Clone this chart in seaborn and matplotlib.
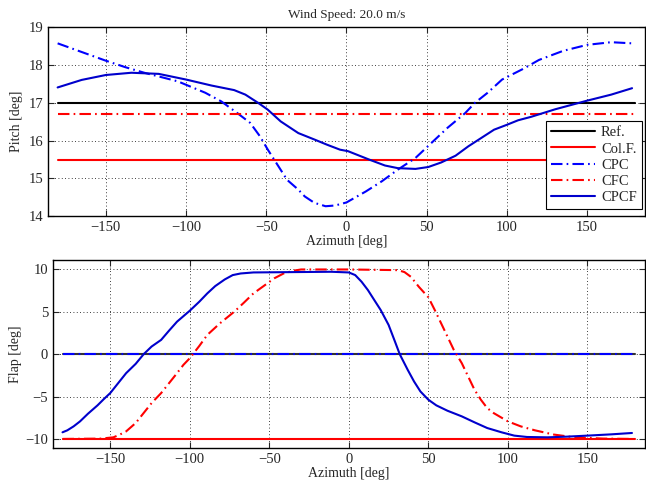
import matplotlib
matplotlib.use("Agg")
import matplotlib.pyplot as plt
import seaborn as sns
import pandas as pd

# --- data ---
az_ends = [-180, 180]

# pitch (top)
pitch_ref = [17.0, 17.0]
pitch_colf = [15.48, 15.48]
pitch_cfc = [16.70, 16.70]

pitch_cpc_az = [-180, -165, -150, -138, -126, -115, -105, -88, -78, -68, -60, -54, -49, -43, -37, -30, -26, -20,
                -13, -7, 0, 12, 22, 32, 43, 53, 63, 74, 80, 88, 97, 110, 120, 135, 150, 165, 178]
pitch_cpc = [18.58, 18.35, 18.12, 17.95, 17.80, 17.68, 17.57, 17.27, 17.04, 16.73, 16.47, 16.12, 15.76, 15.36,
             14.96, 14.70, 14.52, 14.35, 14.26, 14.28, 14.36, 14.65, 14.92, 15.23, 15.54, 15.94, 16.34, 16.73,
             17.0, 17.27, 17.62, 17.9, 18.14, 18.38, 18.54, 18.61, 18.58]

pitch_cpcf_az = [-180, -165, -150, -134, -117, -100, -84, -70, -63, -55, -49, -41, -30, -20, -12, -4, 1, 14, 24,
                 32, 43, 51, 59, 68, 76, 84, 92, 100, 107, 115, 130, 150, 165, 178]
pitch_cpcf = [17.41, 17.61, 17.74, 17.80, 17.77, 17.62, 17.46, 17.34, 17.22, 17.0, 16.82, 16.51, 16.2, 16.03,
              15.89, 15.76, 15.72, 15.50, 15.34, 15.27, 15.25, 15.30, 15.42, 15.60, 15.85, 16.07, 16.29, 16.42,
              16.54, 16.63, 16.83, 17.06, 17.22, 17.39]

# flap (bottom)
flap_ref = [0.0, 0.0]
flap_colf = [-10.0, -10.0]
flap_cpc = [0.0, 0.0]

flap_cfc_az = [-180, -156, -148, -144, -140, -134, -129, -124, -118, -113, -108, -104, -100, -94, -89, -81, -72,
               -66, -60, -53, -47, -41, -35, -30, 0, 31, 35, 39, 44, 50, 54, 58, 62, 66, 71, 75, 79, 83, 87, 91,
               100, 108, 117, 129, 142, 160, 178]
flap_cfc = [-9.94, -9.9, -9.75, -9.43, -9.05, -8.07, -6.9, -5.73, -4.56, -3.39, -2.22, -1.25, -0.47, 0.97, 2.26,
            3.63, 4.99, 6.04, 7.13, 8.07, 8.89, 9.47, 9.79, 9.94, 9.94, 9.86, 9.63, 9.08, 7.91, 6.67, 5.19, 3.63,
            2.07, 0.5, -1.05, -2.61, -4.17, -5.34, -6.32, -6.9, -7.88, -8.46, -8.93, -9.43, -9.75, -9.9, -9.94]

flap_cpcf_az = [-180, -177, -173, -169, -164, -158, -154, -150, -145, -140, -134, -129, -124, -118, -113, -108,
                -100, -94, -89, -84, -78, -73, -68, -60, -11, 0, 4, 8, 12, 16, 20, 25, 29, 32, 37, 41, 45, 50,
                55, 62, 71, 79, 87, 96, 104, 112, 125, 137, 150, 165, 178]
flap_cpcf = [-9.16, -8.93, -8.46, -7.88, -6.98, -6.0, -5.26, -4.56, -3.39, -2.22, -1.13, 0.0, 0.9, 1.68, 2.77,
             3.82, 5.1, 6.16, 7.13, 7.99, 8.77, 9.28, 9.47, 9.59, 9.67, 9.59, 9.28, 8.5, 7.52, 6.35, 5.19, 3.43,
             1.48, 0.0, -1.83, -3.2, -4.37, -5.34, -6.0, -6.63, -7.29, -7.99, -8.66, -9.16, -9.55, -9.71, -9.75,
             -9.67, -9.55, -9.4, -9.24]

sns.set_style("ticks")
plt.rcParams["font.family"] = ["Liberation Serif", "DejaVu Serif"]

fig = plt.figure(figsize=(6.46, 4.91), dpi=100)
ax1 = fig.add_axes([0.0743, 0.560, 0.924, 0.384])
ax2 = fig.add_axes([0.082, 0.0876, 0.916, 0.382])

dashdot = (5.5, 2, 0.8, 2)
lw = 1.5


def draw(ax, az, vals, color, label, dashed=False):
    df = pd.DataFrame({"az": az, "v": vals})
    sns.lineplot(data=df, x="az", y="v", ax=ax, color=color, lw=lw,
                 label=label, sort=False, estimator=None)
    if dashed:
        ax.lines[-1].set_dashes(dashdot)


draw(ax1, az_ends, pitch_ref, "black", "Ref.")
draw(ax1, az_ends, pitch_colf, "red", "Col.F.")
draw(ax1, pitch_cpc_az, pitch_cpc, "blue", "CPC", dashed=True)
draw(ax1, az_ends, pitch_cfc, "red", "CFC", dashed=True)
draw(ax1, pitch_cpcf_az, pitch_cpcf, "#0000cc", "CPCF")

draw(ax2, az_ends, flap_ref, "#333333", "Ref.")
draw(ax2, az_ends, flap_colf, "red", "Col.F.")
draw(ax2, az_ends, flap_cpc, "blue", "CPC", dashed=True)
draw(ax2, flap_cfc_az, flap_cfc, "red", "CFC", dashed=True)
draw(ax2, flap_cpcf_az, flap_cpcf, "#0000cc", "CPCF")

for ax in (ax1, ax2):
    ax.set_xlim(-186, 186)
    ax.set_xticks([-150, -100, -50, 0, 50, 100, 150])
    ax.set_xlabel("Azimuth [deg]", fontsize=10, labelpad=1)
    ax.grid(True, linestyle=(0, (1, 3)), color="black", lw=0.6)
    ax.tick_params(direction="in", top=True, right=True, labelsize=10.5, length=4, width=0.8)
    for s in ax.spines.values():
        s.set_linewidth(1.0)
        s.set_color("black")

ax1.set_ylim(14, 19)
ax1.set_yticks([14, 15, 16, 17, 18, 19])
ax1.set_ylabel("Pitch [deg]", fontsize=10)
ax1.set_title("Wind Speed: 20.0 m/s", fontsize=9.5, pad=7)

ax2.set_ylim(-11, 11)
ax2.set_yticks([-10, -5, 0, 5, 10])
ax2.set_ylabel("Flap [deg]", fontsize=10, labelpad=2)

leg = ax1.legend(loc="lower right", bbox_to_anchor=(0.995, 0.037), borderaxespad=0,
                 fontsize=10.5, frameon=True, fancybox=False, edgecolor="black", framealpha=1,
                 borderpad=0.35, labelspacing=0.2, handlelength=3.0, handletextpad=0.4)
leg.get_frame().set_linewidth(0.8)
ax2.get_legend().remove()

fig.savefig("out.png", dpi=100)
